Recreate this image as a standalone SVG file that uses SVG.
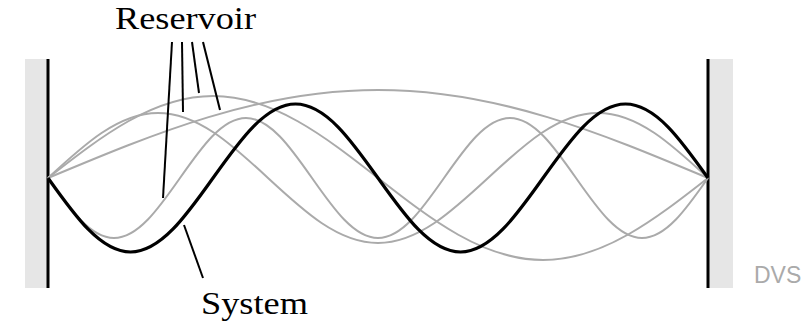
<svg xmlns="http://www.w3.org/2000/svg" width="811" height="323" viewBox="0 0 811 323">
<style>
.wallfill{fill:#e6e6e6;stroke:none}
.wall{stroke:#000;stroke-width:3;fill:none}
.mode{fill:none;stroke:#aaaaaa;stroke-width:2}
.sys{fill:none;stroke:#000;stroke-width:3.2}
.ptr{stroke:#000;stroke-width:2;fill:none}
.lbl{font-family:"Liberation Serif","DejaVu Serif",serif;font-size:31px;fill:#000}
.dvs{font-family:"Liberation Sans",Arial,sans-serif;font-size:23px;fill:#aaaaaa}
</style>
<rect width="811" height="323" fill="#fff"/>
<g id="left-wall">
<rect class="wallfill" x="25" y="59" width="23" height="229"/>
<line class="wall" x1="48" y1="59" x2="48" y2="288"/>
</g>
<g id="right-wall">
<rect class="wallfill" x="708" y="59" width="25" height="229"/>
<line class="wall" x1="708" y1="59" x2="708" y2="288"/>
</g>
<g id="reservoir-modes">
<path id="mode1" class="mode" d="M48,178 C155.6,132.9 258.6,90 378,90 S600.4,132.9 708,178"/>
<path id="mode2" class="mode" d="M48,178 C101.8,136 153.3,96 213,96 S324.2,136 378,178 S483.3,260 543,260 S654.2,220 708,178"/>
<path id="mode3" class="mode" d="M48,178 C83.9,144.7 118.2,113 158,113 S232.1,144.7 268,178 S338.2,243 378,243 S452.1,211.3 488,178 S558.2,113 598,113 S672.1,144.7 708,178"/>
<path id="mode5" class="mode" d="M48,178 C69.5,208.7 90.1,238 114,238 S158.5,208.7 180,178 S222.1,118 246,118 S290.5,147.3 312,178 S354.1,238 378,238 S422.5,208.7 444,178 S486.1,118 510,118 S554.5,147.3 576,178 S618.1,238 642,238 S686.5,208.7 708,178"/>
</g>
<g id="system">
<path class="sys" d="M48,178 C74.9,215.9 100.6,252 130.5,252 S186.1,215.9 213,178 S265.6,104 295.5,104 S351.1,140.1 378,178 S430.6,252 460.5,252 S516.1,215.9 543,178 S595.6,104 625.5,104 S681.1,140.1 708,178"/>
</g>
<g id="connectors">
<line class="ptr" x1="172" y1="42" x2="163" y2="198"/>
<line class="ptr" x1="182" y1="42" x2="183" y2="112"/>
<line class="ptr" x1="192" y1="42" x2="199" y2="93"/>
<line class="ptr" x1="203" y1="42" x2="220" y2="110"/>
<line class="ptr" x1="184" y1="225" x2="203" y2="278"/>
</g>
<g id="label-reservoir"><text class="lbl" x="115" y="29" textLength="141" lengthAdjust="spacingAndGlyphs">Reservoir</text></g>
<g id="label-system"><text class="lbl" x="201" y="314" textLength="107" lengthAdjust="spacingAndGlyphs">System</text></g>
<g id="label-dvs"><text class="dvs" x="754" y="283">DVS</text></g>
</svg>
